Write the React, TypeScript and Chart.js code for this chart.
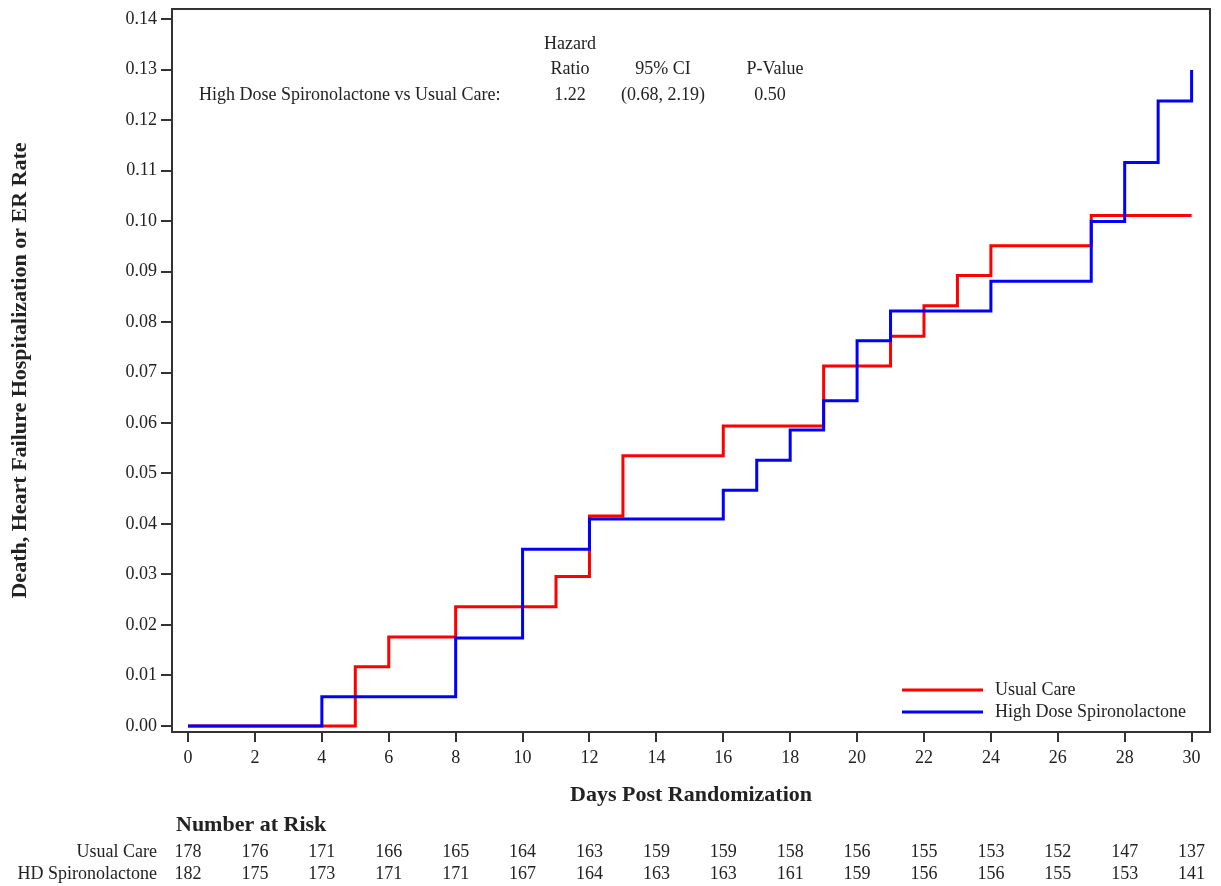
import React, { useEffect, useRef } from "react";
import { Chart, registerables } from "chart.js";

Chart.register(...registerables);

// ---- Data ----
const usualCareDays = [0, 5, 6, 8, 11, 12, 13, 16, 19, 21, 22, 23, 24, 27, 30];
const usualCareRate = [0, 0.0117, 0.0176, 0.0236, 0.0296, 0.0416, 0.0535, 0.0594, 0.0713, 0.0772, 0.0832, 0.0892, 0.0951, 0.1011, 0.1011];

const hdDays = [0, 4, 8, 10, 12, 16, 17, 18, 19, 20, 21, 24, 27, 28, 29, 30];
const hdRate = [0, 0.0058, 0.0174, 0.035, 0.041, 0.0467, 0.0526, 0.0586, 0.0644, 0.0763, 0.0822, 0.0881, 0.0999, 0.1116, 0.1238, 0.1299];

const xTicks = [0, 2, 4, 6, 8, 10, 12, 14, 16, 18, 20, 22, 24, 26, 28, 30];
const yTicks = [0, 0.01, 0.02, 0.03, 0.04, 0.05, 0.06, 0.07, 0.08, 0.09, 0.1, 0.11, 0.12, 0.13, 0.14];

const riskDays = [0, 2, 4, 6, 8, 10, 12, 14, 16, 18, 20, 22, 24, 26, 28, 30];
const riskUsualCare = [178, 176, 171, 166, 165, 164, 163, 159, 159, 158, 156, 155, 153, 152, 147, 137];
const riskHD = [182, 175, 173, 171, 171, 167, 164, 163, 163, 161, 159, 156, 156, 155, 153, 141];

const seriesLabels = ["Usual Care", "High Dose Spironolactone"];
const riskRowLabels = ["Usual Care", "HD Spironolactone"];
const hazardComparison = "High Dose Spironolactone vs Usual Care:";
const hazardHeaderTop = ["Hazard", "", ""];
const hazardHeaders = ["Ratio", "95% CI", "P-Value"];
const hazardValues = ["1.22", "(0.68, 2.19)", "0.50"];

const RED = "#ff0000";
const BLUE = "#0000ff";
const TEXT = "#222222";
const AXIS = "#333333";
const FAMILY = "'Liberation Serif', 'Times New Roman', serif";

export default function App() {
  const ref = useRef<HTMLCanvasElement | null>(null);

  useEffect(() => {
    document.body.style.margin = "0";
    const canvas = ref.current;
    if (!canvas) return;

    const overlay = {
      id: "overlay",
      afterDraw(chart: any) {
        const { ctx, chartArea } = chart;
        const xs = chart.scales.x;
        ctx.save();
        // frame
        ctx.strokeStyle = AXIS;
        ctx.lineWidth = 2;
        ctx.strokeRect(chartArea.left, chartArea.top, chartArea.right - chartArea.left, chartArea.bottom - chartArea.top);

        ctx.fillStyle = TEXT;
        ctx.textBaseline = "middle";
        ctx.font = `18px ${FAMILY}`;

        // hazard table
        const colX = [570, 663, 775];
        ctx.textAlign = "center";
        hazardHeaderTop.forEach((t, i) => { if (t) ctx.fillText(t, colX[i], 44); });
        hazardHeaders.forEach((t, i) => ctx.fillText(t, colX[i], 69));
        const valX = [570, 663, 770];
        hazardValues.forEach((t, i) => ctx.fillText(t, valX[i], 95));
        ctx.textAlign = "left";
        ctx.fillText(hazardComparison, 199, 95);

        // legend
        const legendColors = [RED, BLUE];
        const legendY = [690, 712];
        seriesLabels.forEach((lab, i) => {
          ctx.strokeStyle = legendColors[i];
          ctx.lineWidth = 3;
          ctx.beginPath();
          ctx.moveTo(902, legendY[i]);
          ctx.lineTo(983, legendY[i]);
          ctx.stroke();
          ctx.fillStyle = TEXT;
          ctx.textAlign = "left";
          ctx.fillText(lab, 995, legendY[i]);
        });

        // risk table
        ctx.font = `bold 22px ${FAMILY}`;
        ctx.textAlign = "left";
        ctx.fillText("Number at Risk", 176, 825);
        ctx.font = `18px ${FAMILY}`;
        const rows = [riskUsualCare, riskHD];
        const rowY = [852, 874];
        rows.forEach((row, r) => {
          ctx.textAlign = "right";
          ctx.fillText(riskRowLabels[r], 157, rowY[r]);
          ctx.textAlign = "center";
          row.forEach((v, i) => {
            ctx.fillText(String(v), xs.getPixelForValue(riskDays[i]), rowY[r]);
          });
        });
        ctx.restore();
      },
    };

    const chart = new Chart(canvas, {
      type: "line",
      data: {
        datasets: [
          {
            label: seriesLabels[0],
            data: usualCareDays.map((d, i) => ({ x: d, y: usualCareRate[i] })),
            borderColor: RED,
            backgroundColor: RED,
            borderWidth: 3,
            stepped: "before",
            pointRadius: 0,
            fill: false,
            order: 2,
          },
          {
            label: seriesLabels[1],
            data: hdDays.map((d, i) => ({ x: d, y: hdRate[i] })),
            borderColor: BLUE,
            backgroundColor: BLUE,
            borderWidth: 3,
            stepped: "before",
            pointRadius: 0,
            fill: false,
            order: 1,
          },
        ],
      },
      options: {
        animation: false,
        responsive: false,
        events: [],
        layout: { padding: { top: 9, right: 11, left: 0, bottom: 0 } },
        plugins: {
          legend: { display: false },
          tooltip: { enabled: false },
        },
        scales: {
          x: {
            type: "linear",
            min: -0.48,
            max: 30.55,
            afterBuildTicks: (s: any) => { s.ticks = xTicks.map((v) => ({ value: v })); },
            afterFit: (s: any) => { s.height = 154; s.paddingLeft = 0; s.paddingRight = 0; },
            grid: { display: true, drawOnChartArea: false, drawTicks: true, tickLength: 10, color: AXIS, lineWidth: 2 },
            border: { display: true, color: AXIS, width: 2 },
            ticks: { color: TEXT, font: { family: FAMILY, size: 18 }, padding: 5, maxRotation: 0, autoSkip: false, callback: (v: any) => String(v) },
            title: { display: true, text: "Days Post Randomization", color: TEXT, font: { family: FAMILY, size: 22, weight: "bold" }, padding: { top: 0, bottom: 77 } },
          },
          y: {
            type: "linear",
            min: -0.0012,
            max: 0.142,
            afterBuildTicks: (s: any) => { s.ticks = yTicks.map((v) => ({ value: v })); },
            afterFit: (s: any) => { s.width = 172; s.paddingTop = 0; s.paddingBottom = 0; },
            grid: { display: true, drawOnChartArea: false, drawTicks: true, tickLength: 11, color: AXIS, lineWidth: 2 },
            border: { display: true, color: AXIS, width: 2 },
            ticks: { color: TEXT, font: { family: FAMILY, size: 18 }, padding: 4, autoSkip: false, callback: (v: any) => Number(v).toFixed(2) },
            title: { display: true, text: "Death, Heart Failure Hospitalization or ER Rate", color: TEXT, font: { family: FAMILY, size: 22, weight: "bold" }, padding: { top: 7, bottom: 0 } },
          },
        },
      },
      plugins: [overlay],
    } as any);

    return () => chart.destroy();
  }, []);

  return (
    <div style={{ width: 1221, height: 886, background: "#fff" }}>
      <canvas ref={ref} width={1221} height={886} style={{ display: "block" }} />
    </div>
  );
}
